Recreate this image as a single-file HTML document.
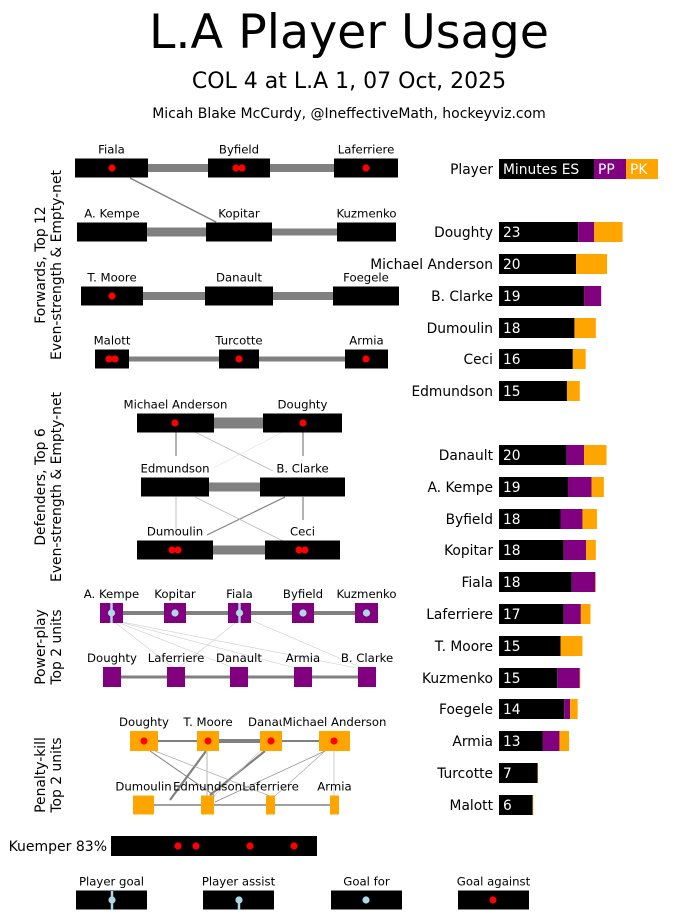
<!DOCTYPE html>
<html><head><meta charset="utf-8"><style>
body{margin:0;background:#fff;}
svg{display:block;font-family:"DejaVu Sans","Liberation Sans",sans-serif;}
</style></head><body>
<svg id="c" width="694" height="923" viewBox="0 0 694 923" xmlns="http://www.w3.org/2000/svg">
<text x="349" y="48" font-size="47.5" text-anchor="middle">L.A Player Usage</text>
<text x="349" y="88" font-size="22" text-anchor="middle">COL 4 at L.A 1, 07 Oct, 2025</text>
<text x="349" y="118" font-size="14" text-anchor="middle">Micah Blake McCurdy, @IneffectiveMath, hockeyviz.com</text>
<g font-size="13.9" text-anchor="middle">
<text transform="translate(45,265) rotate(-90)">Forwards, Top 12</text>
<text transform="translate(61,265) rotate(-90)">Even-strength &amp; Empty-net</text>
<text transform="translate(45,487) rotate(-90)">Defenders, Top 6</text>
<text transform="translate(61,487) rotate(-90)">Even-strength &amp; Empty-net</text>
<text transform="translate(45,647) rotate(-90)">Power-play</text>
<text transform="translate(61,647) rotate(-90)">Top 2 units</text>
<text transform="translate(45,775) rotate(-90)">Penalty-kill</text>
<text transform="translate(61,775) rotate(-90)">Top 2 units</text>
</g>
<g id="net"></g>
<g id="bars"></g>
</svg>
<script>
const NS="http://www.w3.org/2000/svg";
const players=["Doughty","Michael Anderson","B. Clarke","Dumoulin","Ceci","Edmundson","Danault","A. Kempe","Byfield","Kopitar","Fiala","Laferriere","T. Moore","Kuzmenko","Foegele","Armia","Turcotte","Malott"];
const esMin=[14.8,14.4,15.9,14.1,13.8,12.7,12.6,12.9,11.5,12.1,13.6,12.1,11.5,10.9,12.2,8.2,7.2,6.3];
const ppMin=[3.0,0,3.2,0,0,0,3.3,4.4,4.1,4.2,4.4,3.2,0,4.2,1.1,3.1,0,0];
const pkMin=[5.3,5.8,0,4.0,2.4,2.4,4.2,2.3,2.7,1.8,0.1,1.8,4.1,0.1,1.4,1.8,0.1,0.1];
const rowY=[232,264,296,328,359,391,455,487,519,550,582,614,646,678,709,741,773,805];

function el(tag,attrs,parent,txt){const e=document.createElementNS(NS,tag);for(const k in attrs)e.setAttribute(k,attrs[k]);if(txt!==undefined)e.textContent=txt;parent.appendChild(e);return e;}
const bars=document.getElementById('bars');
const X0=499,PX=5.35;
const xs=m=>X0+m*PX;
let h=el('rect',{x:499,y:159,width:95,height:20,fill:'#000'},bars);

h=el('rect',{x:594,y:159,width:32,height:20,fill:'#800080'},bars);

h=el('rect',{x:626,y:159,width:32,height:20,fill:'#ffa500'},bars);

h=el('text',{x:493,y:174,'font-size':13.8,'text-anchor':'end'},bars,'Player');

h=el('text',{x:503,y:174,'font-size':13.8,fill:'#fff'},bars,'Minutes ES');

h=el('text',{x:598,y:174,'font-size':13.8,fill:'#fff'},bars,'PP');

h=el('text',{x:630,y:174,'font-size':13.8,fill:'#fff'},bars,'PK');

players.forEach((p,i)=>{
  const y=rowY[i]-10;
  let a=xs(0),b=xs(esMin[i]),c=xs(esMin[i]+ppMin[i]),d=xs(esMin[i]+ppMin[i]+pkMin[i]);
  let r=el('rect',{x:a,y:y,width:b-a,height:20,fill:'#000'},bars);
  
  r=el('rect',{x:b,y:y,width:c-b,height:20,fill:'#800080'},bars);
  
  r=el('rect',{x:c,y:y,width:d-c,height:20,fill:'#ffa500'},bars);
  
  let t=el('text',{x:493,y:rowY[i]+5,'font-size':13.8,'text-anchor':'end'},bars,p);
  
  t=el('text',{x:503,y:rowY[i]+5,'font-size':13.8,fill:'#fff'},bars,String(Math.floor(esMin[i]+ppMin[i]+pkMin[i])));
  
});

const net=document.getElementById('net');
function line(x1,y1,x2,y2,w,col){const l=el('line',{x1,y1,x2,y2,stroke:col,'stroke-width':w},net);}
function box(x1,x2,y,hh,fill,label,name){const r=el('rect',{x:x1,y:y-hh/2,width:x2-x1,height:hh,fill:fill},net);
 if(label){const t=el('text',{x:(x1+x2)/2,y:y-hh/2-5,'font-size':11.7,'text-anchor':'middle'},net,label);}}
function dot(x,y,col,name){const c=el('circle',{cx:x,cy:y,r:3.6,fill:col},net);}
const G='#808080';
line(148,168,208,168,8,G);line(270,168,334,168,8,G);
line(147,232,206,232,9,G);line(272,232,337,232,7,G);
line(143,296,205,296,8,G);line(273,296,333,296,8,G);
line(129,359,219,359,5,G);line(259,359,345,359,5,G);
line(130,178,216,222,1.5,G);
const fw=[[75,148,168,'Fiala',[112]],[208,270,168,'Byfield',[236,242]],[334,398,168,'Laferriere',[366]],
[77,147,232,'A. Kempe',[]],[206,272,232,'Kopitar',[]],[337,396,232,'Kuzmenko',[]],
[81,143,296,'T. Moore',[112]],[205,273,296,'Danault',[]],[333,399,296,'Foegele',[]],
[95,129,359,'Malott',[109,115]],[219,259,359,'Turcotte',[239]],[345,388,359,'Armia',[366]]];
fw.forEach(f=>{box(f[0],f[1],f[2],19,'#000',f[3],'forward');f[4].forEach(x=>dot(x,f[2],'red','goal-against-dot'));});
line(214,423,263,423,11,G);line(209,487,260,487,9,G);line(213,550,265,550,9,G);
line(176,432,176,456,1.2,G);line(303,432,303,456,1.2,G);
line(195,432,273,471,0.8,'#bbb');line(283,432,213,468,0.6,'#ddd');
line(176,497,176,530,1.2,'#ccc');line(303,497,303,520,1.2,G);
line(285,497,207,535,1.2,G);line(195,497,283,541,0.8,'#bbb');
const df=[[137,214,423,'Michael Anderson',[175]],[263,342,423,'Doughty',[303]],
[141,209,487,'Edmundson',[]],[260,345,487,'B. Clarke',[]],
[137,213,550,'Dumoulin',[172,178]],[265,340,550,'Ceci',[299,305]]];
df.forEach(f=>{box(f[0],f[1],f[2],19,'#000',f[3],'defender');f[4].forEach(x=>dot(x,f[2],'red','goal-against-dot'));});
line(112,613,366,613,4,G);line(112,677,367,677,3,G);
[[112,176],[112,239],[112,303],[112,367]].forEach(p=>line(p[0],620,p[1],670,0.6,'#ccc'));
line(239,620,176,670,0.6,'#ccc');line(251,620,367,670,0.6,'#ccc');
const pp1=[[100,123,'A. Kempe',true],[164,186,'Kopitar',false],[228,251,'Fiala',true],[292,314,'Byfield',false],[355,378,'Kuzmenko',false]];
pp1.forEach(f=>{box(f[0],f[1],613,20,'#800080',f[2],'pp-unit1');const cx=(f[0]+f[1])/2;
 if(f[3])line(cx,603,cx,623,2.5,'#add8e6');dot(cx,613,'#add8e6','goal-for-dot');});
[[103,121,'Doughty'],[167,185,'Laferriere'],[230,248,'Danault'],[294,312,'Armia'],[358,376,'B. Clarke']].forEach(f=>box(f[0],f[1],677,20,'#800080',f[2],'pp-unit2'));
line(144,741,334,741,2,G);line(219,741,260,741,4,G);line(144,805,334,805,1.5,G);
line(206,751,170,800,2.2,G);line(265,751,210,795,2.2,G);line(150,751,215,796,1,G);
line(155,751,270,796,0.7,'#aaa');line(207,751,207,796,1.5,'#ccc');line(260,751,214,796,0.7,'#ccc');
line(325,751,275,796,0.7,'#aaa');line(334,751,334,796,1.5,'#ddd');line(325,751,215,802,0.7,'#888');
[[130,158,'Doughty'],[197,219,'T. Moore'],[260,282,'Danault']].forEach(f=>{box(f[0],f[1],741,20,'#ffa500',f[2],'pk-unit1');dot((f[0]+f[1])/2,741,'red','goal-against-dot');});
let wb=el('rect',{x:282,y:715,width:106,height:15,fill:'#fff'},net);
box(319,350,741,20,'#ffa500','Michael Anderson','pk-unit1');dot(334,741,'red','goal-against-dot');
[[133,154,'Dumoulin'],[201,214,'Edmundson'],[266,275,'Laferriere'],[330,339,'Armia']].forEach(f=>box(f[0],f[1],805,19,'#ffa500',f[2],'pk-unit2'));
box(111,317,846,20,'#000',null,'goalie');
let gt=el('text',{x:107,y:851,'font-size':14,'text-anchor':'end'},net,'Kuemper 83%');
[178,196,250,294].forEach(x=>dot(x,846,'red','goal-against-dot'));
box(76,147,900,19,'#000','Player goal','legend-player-goal');line(112,891,112,910,2.5,'#add8e6');dot(112,900,'#add8e6','legend-dot');
box(203,274,900,19,'#000','Player assist','legend-player-assist');line(239,900,239,910,2.5,'#add8e6');dot(239,900,'#add8e6','legend-dot');
box(331,402,900,19,'#000','Goal for','legend-goal-for');dot(366,900,'#add8e6','legend-dot');
box(458,529,900,19,'#000','Goal against','legend-goal-against');dot(493,900,'red','legend-dot');
</script>
</body></html>
